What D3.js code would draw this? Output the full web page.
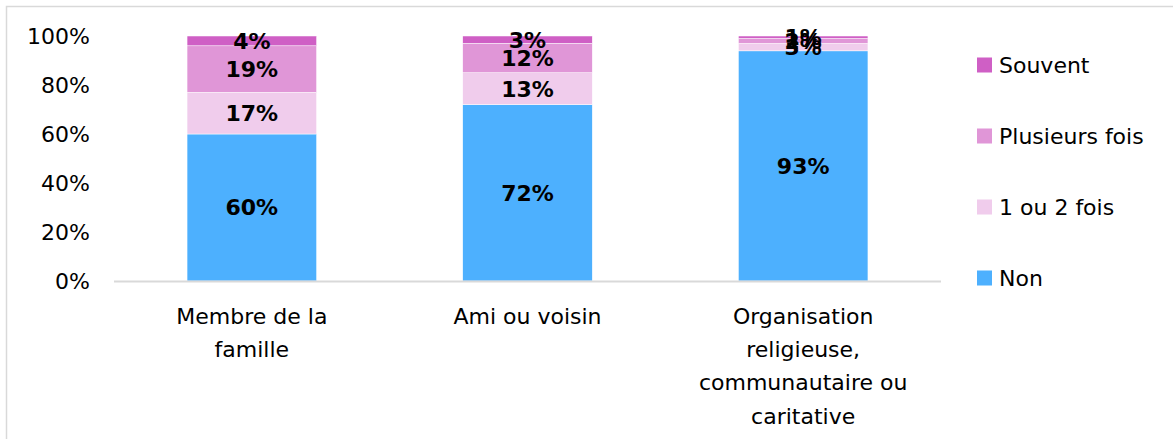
<!DOCTYPE html>
<html>
<head>
<meta charset="utf-8">
<script src="https://cdn.jsdelivr.net/npm/d3@7"></script>
<style>
  body { margin: 0; background: #fff; }
  svg { display: block; font-family: "Century Gothic", "DejaVu Sans", sans-serif; }
</style>
</head>
<body>
<div class="wrapper"></div>
<script>
var categories = ["Membre de la famille", "Ami ou voisin", "Organisation religieuse, communautaire ou caritative"];
var keys = ["Non", "1 ou 2 fois", "Plusieurs fois", "Souvent"];
var non = [60, 72, 93];
var unOuDeux = [17, 13, 3];
var plusieurs = [19, 12, 2];
var souvent = [4, 3, 1];
var yTicks = [0, 0.2, 0.4, 0.6, 0.8, 1];
var colors = ["#4DB0FE", "#F0CCEC", "#E096D7", "#CF5FC5"];

var width = 1173, height = 439;
var fs = 22;
var svg = d3.select(".wrapper").append("svg")
  .attr("width", width)
  .attr("height", height);

// chart frame
svg.append("rect")
  .attr("x", 6.5).attr("y", 6.5)
  .attr("width", width + 10).attr("height", height + 10)
  .attr("fill", "none")
  .attr("stroke", "#d9d9d9")
  .attr("stroke-width", 1.5);

var rows = categories.map(function(c, i) {
  return {cat: c, "Non": non[i], "1 ou 2 fois": unOuDeux[i], "Plusieurs fois": plusieurs[i], "Souvent": souvent[i]};
});

var series = d3.stack().keys(keys).offset(d3.stackOffsetExpand)(rows);

var x = d3.scaleBand().domain(categories).range([114, 941]).paddingInner(0.53).paddingOuter(0.265);
var y = d3.scaleLinear().domain([0, 1]).range([281, 36]);
var z = d3.scaleOrdinal().domain(keys).range(colors);

var g = svg.append("g");

g.selectAll("g.serie")
  .data(series)
  .enter().append("g")
    .attr("class", "serie")
    .attr("fill", function(d) { return z(d.key); })
  .selectAll("rect")
  .data(function(d) { return d; })
  .enter().append("rect")
    .attr("x", function(d) { return x(d.data.cat); })
    .attr("y", function(d) { return y(d[1]); })
    .attr("width", x.bandwidth())
    .attr("height", function(d) { return y(d[0]) - y(d[1]); })
    .attr("stroke", "#fff")
    .attr("stroke-width", 0.5);

// baseline
svg.append("line")
  .attr("x1", 114).attr("x2", 941)
  .attr("y1", y(0) + 0.5).attr("y2", y(0) + 0.5)
  .attr("stroke", "#d9d9d9")
  .attr("stroke-width", 2);

// value labels
series.forEach(function(s) {
  g.selectAll(null)
    .data(s)
    .enter().append("text")
      .attr("x", function(d) { return x(d.data.cat) + x.bandwidth() / 2; })
      .attr("y", function(d) { return (y(d[0]) + y(d[1])) / 2; })
      .attr("dy", "0.36em")
      .attr("text-anchor", "middle")
      .attr("font-weight", "bold")
      .attr("font-size", fs)
      .attr("fill", "#000")
      .text(function(d) { return d.data[s.key] + "%"; });
});

// y axis
var yAxis = svg.append("g")
  .attr("transform", "translate(90,0)")
  .call(d3.axisLeft(y).tickValues(yTicks).tickFormat(d3.format(".0%")).tickSize(0).tickPadding(0));
yAxis.select(".domain").remove();
yAxis.selectAll("text")
  .attr("font-size", fs)
  .attr("font-family", "'Century Gothic', 'DejaVu Sans', sans-serif")
  .attr("fill", "#000");

// x axis labels, wrapped
var xAxis = svg.append("g")
  .attr("transform", "translate(0," + y(0) + ")")
  .call(d3.axisBottom(x).tickSize(0).tickPadding(0));
xAxis.select(".domain").remove();
xAxis.selectAll("text")
  .attr("font-size", fs)
  .attr("font-family", "'Century Gothic', 'DejaVu Sans', sans-serif")
  .attr("fill", "#000")
  .call(wrap, 215);

function wrap(texts, maxW) {
  texts.each(function() {
    var text = d3.select(this),
      words = text.text().split(/\s+/),
      lines = [], line = [];
    text.text(null);
    var tmp = text.append("tspan");
    words.forEach(function(w) {
      line.push(w);
      tmp.text(line.join(" "));
      if (tmp.node().getComputedTextLength() > maxW && line.length > 1) {
        line.pop();
        lines.push(line.join(" "));
        line = [w];
      }
    });
    lines.push(line.join(" "));
    tmp.remove();
    lines.forEach(function(l, i) {
      text.append("tspan")
        .attr("x", 0)
        .attr("y", 35 + i * 33.3)
        .attr("dy", "0.35em")
        .text(l);
    });
  });
}

// legend
var legendKeys = keys.slice().reverse();
var legend = svg.append("g")
  .selectAll("g")
  .data(legendKeys)
  .enter().append("g")
    .attr("transform", function(d, i) { return "translate(977," + (65 + i * 71) + ")"; });

legend.append("rect")
  .attr("x", 0).attr("y", -7.5)
  .attr("width", 15).attr("height", 15)
  .attr("fill", z);

legend.append("text")
  .attr("x", 22)
  .attr("y", 0)
  .attr("dy", "0.36em")
  .attr("font-size", fs)
  .attr("fill", "#000")
  .text(function(d) { return d; });
</script>
</body>
</html>
